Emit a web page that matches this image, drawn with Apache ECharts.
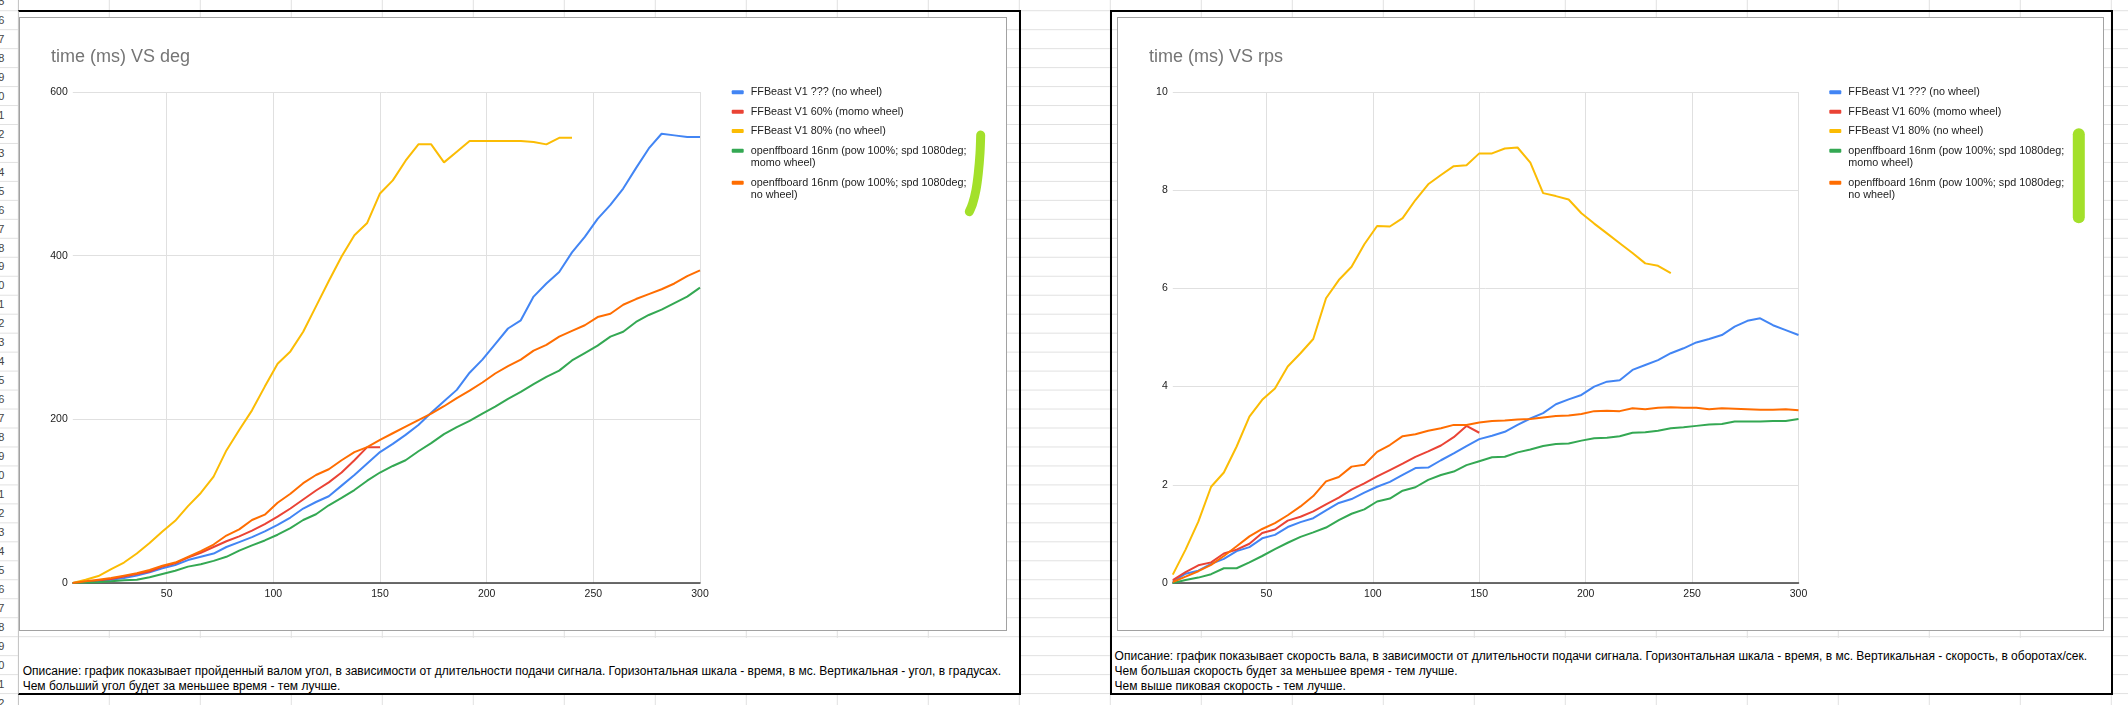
<!DOCTYPE html>
<html>
<head>
<meta charset="utf-8">
<title>time (ms) VS deg / time (ms) VS rps</title>
<script src="https://cdn.jsdelivr.net/npm/echarts@6.0.0/dist/echarts.min.js"></script>
<style>
  html, body { margin: 0; padding: 0; }
  body {
    position: relative;
    width: 2128px;
    height: 705px;
    overflow: hidden;
    font-family: Arial, "Liberation Sans", sans-serif;
    background-color: #fff;
    background-image: linear-gradient(to bottom, #e1e1e1 1px, transparent 1px),
                      linear-gradient(to right, #e1e1e1 1px, transparent 1px);
    background-size: 100% 18.98px, 91px 100%;
    background-position: 0 10.2px, 17.8px 0;
  }
  .abs { position: absolute; }
  .rownum {
    position: absolute; left: -20px; width: 24.5px; height: 19px;
    line-height: 19px; text-align: right; font-size: 11px; color: #444;
  }
  .hdr-border { left: 17.8px; top: 0; width: 1px; height: 705px; background: #c6c6c6; }
  .chartbox {
    position: absolute; top: 17px; height: 614px; box-sizing: border-box;
    border: 1px solid #a2a2a2; background: #fff;
  }
  .chart { position: absolute; left: 0; top: 0; }
  .desc {
    position: absolute; top: 637.5px; height: 56px; width: 1000px; background: #fff;
  }
  .desc div {
    position: absolute; white-space: nowrap; font-size: 12px; line-height: 14.7px; color: #000;
  }
  .blk { position: absolute; top: 10px; height: 685px; box-sizing: border-box; border: 2px solid #000; }
</style>
</head>
<body>
<div id="rows"></div>
<div class="abs hdr-border"></div>

<div class="chartbox" style="left:19px; width:988px;"><div id="main1" class="chart" style="width:986px;height:612px;"></div></div>
<div class="chartbox" style="left:1117px; width:987px;"><div id="main2" class="chart" style="width:985px;height:612px;"></div></div>

<div class="desc" style="left:19px;">
  <div style="left:3.7px; top:26.8px;">Описание: график показывает пройденный валом угол, в зависимости от длительности подачи сигнала. Горизонтальная шкала - время, в мс. Вертикальная - угол, в градусах.</div>
  <div style="left:3.7px; top:41.5px;">Чем больший угол будет за меньшее время - тем лучше.</div>
</div>
<div class="desc" style="left:1111px;">
  <div style="left:3.6px; top:11.8px;">Описание: график показывает скорость вала, в зависимости от длительности подачи сигнала. Горизонтальная шкала - время, в мс. Вертикальная - скорость, в оборотах/сек.</div>
  <div style="left:3.6px; top:26.8px;">Чем большая скорость будет за меньшее время - тем лучше.</div>
  <div style="left:3.6px; top:41.5px;">Чем выше пиковая скорость - тем лучше.</div>
</div>

<div class="blk" style="left:17.5px; width:1003px; border-left-color:#c6c6c6; border-left-width:1px;"></div>
<div class="blk" style="left:1109.5px; width:1003px;"></div>

<script>
// время подачи сигнала, мс
var timeMs = [6, 12, 18, 24, 30, 36, 42, 48, 54, 60, 66, 72, 78, 84, 90, 96, 102, 108, 114, 120,
  126, 132, 138, 144, 150, 156, 162, 168, 174, 180, 186, 192, 198, 204, 210, 216, 222, 228, 234, 240,
  246, 252, 258, 264, 270, 276, 282, 288, 294, 300];
var xTickLabels = [50, 100, 150, 200, 250, 300];

var seriesNames = [
  'FFBeast V1 ??? (no wheel)',
  'FFBeast V1 60% (momo wheel)',
  'FFBeast V1 80% (no wheel)',
  'openffboard 16nm (pow 100%; spd 1080deg; momo wheel)',
  'openffboard 16nm (pow 100%; spd 1080deg; no wheel)'
];
var seriesColors = ['#4285f4', '#ea4335', '#fbbc04', '#34a853', '#ff6d01'];

// угол, градусы
var blueDeg = [0, 1, 2, 4, 6, 9, 13, 18, 22, 28, 32, 36, 44, 50, 56, 63, 71, 80, 91, 99,
  106, 119, 132, 146, 160, 170, 181, 193, 208, 222, 236, 257, 273, 292, 311, 321, 350, 366, 380, 404,
  423, 445, 462, 482, 507, 531, 549, 547, 545, 545];
var redDeg = [0, 1, 3, 5, 8, 11, 14, 20, 24, 31, 37, 44, 51, 57, 64, 72, 81, 91, 102, 113,
  123, 135, 150, 166, 166];
var yellowDeg = [0, 4, 8.5, 17, 25, 36, 49, 63, 76, 94, 110, 130, 162, 187, 211, 240, 268, 283, 307, 338,
  369, 399, 425, 440, 476, 492, 516, 536, 536, 514, 527, 540, 540, 540, 540, 540, 539, 536, 544, 544];
var greenDeg = [0, 0.5, 1, 2, 3.5, 4, 7, 11, 15, 20, 23, 27, 32, 39.5, 46, 52, 59, 67, 77, 84,
  95, 104, 113.6, 125, 135, 143, 150, 161, 171, 182, 190.5, 198, 207, 215.6, 225, 233.5, 243, 252, 259.5, 272,
  281, 290, 301, 307, 319, 327.5, 334, 342, 350, 361];
var orangeDeg = [0, 2, 4, 6, 9, 12, 16, 21, 25, 32, 39, 47, 58, 65.5, 77, 83.5, 98, 109, 122, 132,
  139, 150, 160, 166, 175, 183, 191, 199, 207, 216, 226, 235, 245, 256, 265, 273, 284, 291, 301, 308,
  315, 325, 329, 340, 347, 353, 359, 366, 375, 382];

// скорость, об/сек
var blueRps = [0.03, 0.19, 0.25, 0.39, 0.49, 0.65, 0.73, 0.91, 0.98, 1.14, 1.24, 1.32, 1.48, 1.63, 1.71, 1.84, 1.96, 2.06, 2.2, 2.34,
  2.35, 2.5, 2.64, 2.79, 2.93, 3.0, 3.08, 3.22, 3.35, 3.46, 3.64, 3.74, 3.83, 4.0, 4.1, 4.13, 4.34, 4.44, 4.54, 4.68,
  4.78, 4.9, 4.97, 5.05, 5.22, 5.34, 5.39, 5.25, 5.15, 5.05];
var redRps = [0.06, 0.22, 0.36, 0.42, 0.6, 0.68, 0.8, 1.02, 1.09, 1.27, 1.35, 1.46, 1.6, 1.74, 1.9, 2.03, 2.17, 2.3, 2.43, 2.57,
  2.68, 2.8, 2.97, 3.2, 3.06];
var yellowRps = [0.17, 0.68, 1.25, 1.96, 2.25, 2.78, 3.39, 3.73, 3.96, 4.41, 4.68, 4.97, 5.8, 6.17, 6.44, 6.9, 7.27, 7.26, 7.43, 7.8,
  8.12, 8.31, 8.49, 8.51, 8.75, 8.75, 8.85, 8.87, 8.56, 7.94, 7.88, 7.81, 7.53, 7.32, 7.12, 6.92, 6.72, 6.51, 6.46, 6.31];
var greenRps = [0, 0.06, 0.11, 0.18, 0.3, 0.3, 0.42, 0.55, 0.69, 0.82, 0.94, 1.03, 1.13, 1.28, 1.41, 1.5, 1.66, 1.72, 1.88, 1.95,
  2.1, 2.2, 2.27, 2.4, 2.48, 2.56, 2.57, 2.66, 2.72, 2.79, 2.83, 2.84, 2.9, 2.95, 2.96, 2.99, 3.06, 3.07, 3.1, 3.15,
  3.17, 3.2, 3.23, 3.24, 3.29, 3.29, 3.29, 3.3, 3.3, 3.34];
var orangeRps = [0.02, 0.13, 0.24, 0.37, 0.55, 0.75, 0.95, 1.1, 1.22, 1.38, 1.56, 1.77, 2.07, 2.16, 2.37, 2.41, 2.67, 2.81, 2.99, 3.03,
  3.1, 3.15, 3.22, 3.22, 3.27, 3.3, 3.31, 3.33, 3.34, 3.37, 3.4, 3.41, 3.44, 3.5, 3.51, 3.5, 3.56, 3.54, 3.57, 3.58,
  3.57, 3.57, 3.54, 3.56, 3.55, 3.54, 3.53, 3.53, 3.54, 3.52];

// номера строк таблицы (видна только последняя цифра)
(function () {
  var html = '';
  for (var n = -1; n < 37; n++) {
    html += '<div class="rownum" style="top:' + (20.2 + 18.98 * n - 9.5).toFixed(1) + 'px">' + (16 + n) + '</div>';
  }
  document.getElementById('rows').innerHTML = html;
})();

function pairs(values) {
  var out = [];
  for (var i = 0; i < values.length; i++) {
    out.push([timeMs[i], values[i]]);
  }
  return out;
}

function legendName(name) {
  var i = name.indexOf('1080deg; ');
  if (i < 0) return name;
  return '\n' + name.slice(0, i + 8) + '\n' + name.slice(i + 9);
}

var legendTops = [68.3, 87.7, 107, 114.7, 146.7];

function makeOption(cfg) {
  var legends = [];
  var series = [];
  for (var i = 0; i < seriesNames.length; i++) {
    legends.push({
      left: cfg.legendLeft,
      top: legendTops[i],
      padding: 0,
      selectedMode: false,
      icon: 'roundRect',
      itemWidth: 12,
      itemHeight: 4,
      data: [seriesNames[i]],
      formatter: legendName,
      textStyle: {
        fontFamily: 'Arial',
        fontSize: 10.8,
        lineHeight: 12,
        color: '#222',
        padding: [0, 0, 0, 2]
      }
    });
    series.push({
      name: seriesNames[i],
      type: 'line',
      showSymbol: false,
      symbol: 'none',
      color: seriesColors[i],
      lineStyle: { width: 2, color: seriesColors[i] },
      data: pairs(cfg.data[i])
    });
  }
  return {
    animation: false,
    title: {
      text: cfg.title,
      left: 30.9,
      top: 28,
      padding: 0,
      textStyle: {
        fontFamily: 'Arial',
        fontSize: 18,
        lineHeight: 22,
        fontWeight: 'normal',
        color: '#757575'
      }
    },
    legend: legends,
    grid: {
      left: cfg.gridLeft,
      top: 74,
      width: cfg.gridWidth,
      height: 491,
      containLabel: false
    },
    xAxis: {
      type: 'value',
      min: 6,
      max: 300,
      axisLine: { lineStyle: { color: '#3c3c3c', width: 1.5 } },
      axisTick: { show: false, customValues: xTickLabels },
      axisLabel: {
        customValues: xTickLabels,
        fontFamily: 'Arial',
        fontSize: 10.5,
        color: '#222',
        margin: 6
      },
      splitLine: { show: true, lineStyle: { color: '#e0e0e0', width: 1 } }
    },
    yAxis: {
      type: 'value',
      min: 0,
      max: cfg.yMax,
      interval: cfg.yInterval,
      axisLine: { show: false },
      axisTick: { show: false },
      axisLabel: { fontFamily: 'Arial', fontSize: 10.5, color: '#222', margin: 5 },
      splitLine: { lineStyle: { color: '#e0e0e0', width: 1 } }
    },
    graphic: cfg.marker,
    series: series
  };
}

var myChart1 = echarts.init(document.getElementById('main1'));
var myChart2 = echarts.init(document.getElementById('main2'));

myChart1.setOption(makeOption({
  title: 'time (ms) VS deg',
  yMax: 600,
  yInterval: 200,
  gridLeft: 52.8,
  gridWidth: 627.2,
  legendLeft: 711.7,
  data: [blueDeg, redDeg, yellowDeg, greenDeg, orangeDeg],
  marker: [{
    type: 'polyline',
    z: 100,
    shape: {
      points: [[960.7, 117], [960, 135.3], [958.3, 155.3], [956, 172], [952.7, 185.3], [949.3, 193.7]],
      smooth: 0.3
    },
    style: { stroke: '#a3e02a', lineWidth: 9, lineCap: 'round', lineJoin: 'round', fill: null }
  }]
}));

myChart2.setOption(makeOption({
  title: 'time (ms) VS rps',
  yMax: 10,
  yInterval: 2,
  gridLeft: 54.8,
  gridWidth: 625.7,
  legendLeft: 711.3,
  data: [blueRps, redRps, yellowRps, greenRps, orangeRps],
  marker: [{
    type: 'line',
    z: 100,
    shape: { x1: 960.8, y1: 116.3, x2: 960.8, y2: 199.3 },
    style: { stroke: '#a3e02a', lineWidth: 12, lineCap: 'round' }
  }]
}));
</script>
</body>
</html>
